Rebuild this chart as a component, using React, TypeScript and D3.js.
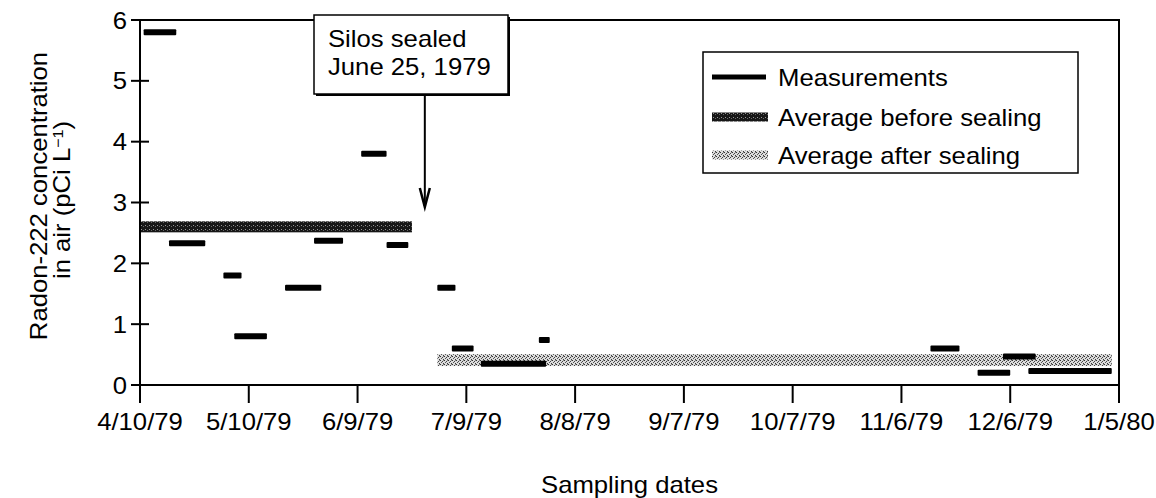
import React from 'react';
import * as d3 from 'd3';

// ---- Data ----
const measStart = ['1979-04-11', '1979-04-18', '1979-05-03', '1979-05-06', '1979-05-20', '1979-05-28', '1979-06-10', '1979-06-17', '1979-07-01', '1979-07-05', '1979-07-13', '1979-07-29', '1979-11-14', '1979-11-27', '1979-12-04', '1979-12-11'];
const measEnd = ['1979-04-20', '1979-04-28', '1979-05-08', '1979-05-15', '1979-05-30', '1979-06-05', '1979-06-17', '1979-06-23', '1979-07-06', '1979-07-11', '1979-07-31', '1979-08-01', '1979-11-22', '1979-12-06', '1979-12-13', '1980-01-03'];
const measValues = [5.8, 2.33, 1.8, 0.8, 1.6, 2.37, 3.8, 2.3, 1.6, 0.6, 0.35, 0.74, 0.6, 0.2, 0.47, 0.23];

const avgBeforeRange = ['1979-04-10', '1979-06-24'];
const avgBeforeValue = 2.6;
const avgAfterRange = ['1979-07-01', '1980-01-03'];
const avgAfterValue = 0.41;

const xTickDates = ['1979-04-10', '1979-05-10', '1979-06-09', '1979-07-09', '1979-08-08', '1979-09-07', '1979-10-07', '1979-11-06', '1979-12-06', '1980-01-05'];
const yTicks = [0, 1, 2, 3, 4, 5, 6];
const sealArrowDate = '1979-06-27';
const annotationLines = ['Silos sealed', 'June 25, 1979'];
const legendLabels = ['Measurements', 'Average before sealing', 'Average after sealing'];

const parse = d3.timeParse('%Y-%m-%d');
const fmt = (d: Date) => `${d.getMonth() + 1}/${d.getDate()}/${String(d.getFullYear()).slice(2)}`;

const FONT = '"Liberation Sans", Arial, Helvetica, sans-serif';
const FS = 24;
const SX = 1.07;

function T({ x, y, anchor = 'start', rotate = 0, size = FS, children }: any) {
  const tr = `translate(${x},${y})${rotate ? ` rotate(${rotate})` : ''} scale(${SX},1)`;
  return (
    <text transform={tr} textAnchor={anchor} fontFamily={FONT} fontSize={size} fill="#000">
      {children}
    </text>
  );
}

export default function App() {
  const W = 1156, H = 498;
  const left = 140, right = 1119, top = 20, bottom = 385;
  const x = d3.scaleTime().domain([parse(xTickDates[0])!, parse(xTickDates[xTickDates.length - 1])!]).range([left, right]);
  const y = d3.scaleLinear().domain([0, 6]).range([bottom, top]);

  const measH = 6, beforeH = 11, afterH = 12;
  const arrowX = x(parse(sealArrowDate)!) + 2;

  const boxL = 314, boxR = 508, boxT = 15, boxB = 94;
  const legL = 703, legR = 1078, legT = 52, legB = 173;
  const legRows = [77, 117, 155];

  return (
    <svg width={W} height={H} style={{ position: 'absolute', left: 0, top: 0, background: '#fff' }}>
      <defs>
        <pattern id="stDark" width="4" height="4" patternUnits="userSpaceOnUse">
          <rect width="4" height="4" fill="#161616" />
          <rect x="1" y="1" width="1" height="1" fill="#fff" opacity="0.55" />
          <rect x="3" y="2" width="1" height="1" fill="#fff" opacity="0.35" />
        </pattern>
        <pattern id="stLight" width="4" height="4" patternUnits="userSpaceOnUse">
          <rect width="4" height="4" fill="#dcdcdc" />
          <rect x="0" y="0" width="1" height="1" fill="#333" />
          <rect x="2" y="1" width="1" height="1" fill="#444" />
          <rect x="1" y="2" width="1" height="1" fill="#555" />
          <rect x="3" y="3" width="1" height="1" fill="#3a3a3a" />
          <rect x="3" y="0" width="1" height="1" fill="#888" />
        </pattern>
      </defs>
      <rect width={W} height={H} fill="#fff" />

      {/* averages */}
      <rect x={x(parse(avgBeforeRange[0])!)} y={y(avgBeforeValue) - beforeH / 2}
        width={x(parse(avgBeforeRange[1])!) - x(parse(avgBeforeRange[0])!)} height={beforeH} fill="url(#stDark)" />
      <rect x={x(parse(avgAfterRange[0])!)} y={y(avgAfterValue) - afterH / 2}
        width={x(parse(avgAfterRange[1])!) - x(parse(avgAfterRange[0])!)} height={afterH} fill="url(#stLight)" />

      {/* measurements */}
      {measValues.map((v, i) => {
        const x0 = x(parse(measStart[i])!), x1 = x(parse(measEnd[i])!);
        return <rect key={i} x={x0} y={y(v) - measH / 2} width={x1 - x0} height={measH} rx={1} fill="#000" />;
      })}

      {/* frame */}
      <rect x={left} y={top} width={right - left} height={bottom - top} fill="none" stroke="#000" strokeWidth={2} />

      {/* y ticks */}
      {yTicks.map(t => (
        <g key={t}>
          <line x1={left - 9} x2={left + 9} y1={y(t)} y2={y(t)} stroke="#000" strokeWidth={2} />
          <T x={127} y={y(t) + 8.5} anchor="end">{t}</T>
        </g>
      ))}

      {/* x ticks */}
      {xTickDates.map(s => {
        const d = parse(s)!;
        return (
          <g key={s}>
            <line x1={x(d)} x2={x(d)} y1={bottom} y2={bottom + 18} stroke="#000" strokeWidth={2} />
            <T x={x(d)} y={430} anchor="middle">{fmt(d)}</T>
          </g>
        );
      })}

      {/* axis titles */}
      <T x={(left + right) / 2} y={493} anchor="middle">Sampling dates</T>
      <T x={47} y={196} anchor="middle" rotate={-90}>Radon-222 concentration</T>
      <text transform={`translate(70,200) rotate(-90) scale(${SX},1)`} textAnchor="middle" fontFamily={FONT} fontSize={FS} fill="#000">
        in air (pCi  L<tspan fontSize={15} dy={-7}>−1</tspan><tspan dy={7}>)</tspan>
      </text>

      {/* annotation */}
      <rect x={boxL + 2} y={boxT + 2} width={boxR - boxL} height={boxB - boxT} fill="#000" />
      <rect x={boxL} y={boxT} width={boxR - boxL} height={boxB - boxT} fill="#fff" stroke="#000" strokeWidth={1.5} />
      <T x={boxL + 14} y={47}>{annotationLines[0]}</T>
      <T x={boxL + 14} y={75}>{annotationLines[1]}</T>
      <line x1={arrowX} x2={arrowX} y1={boxB + 2} y2={206} stroke="#000" strokeWidth={2} />
      <path d={`M${arrowX - 5},${188} L${arrowX},${207} L${arrowX + 5},${188}`} fill="none" stroke="#000" strokeWidth={2.5} />

      {/* legend */}
      <rect x={legL} y={legT} width={legR - legL} height={legB - legT} fill="#fff" stroke="#000" strokeWidth={1.5} />
      <line x1={712} x2={766} y1={legRows[0]} y2={legRows[0]} stroke="#000" strokeWidth={5} />
      <rect x={712} y={legRows[1] - 4.5} width={56} height={9} fill="url(#stDark)" />
      <rect x={712} y={legRows[2] - 4.5} width={56} height={9} fill="url(#stLight)" />
      {legendLabels.map((l, i) => (
        <T key={l} x={778} y={legRows[i] + 8.5}>{l}</T>
      ))}
    </svg>
  );
}
